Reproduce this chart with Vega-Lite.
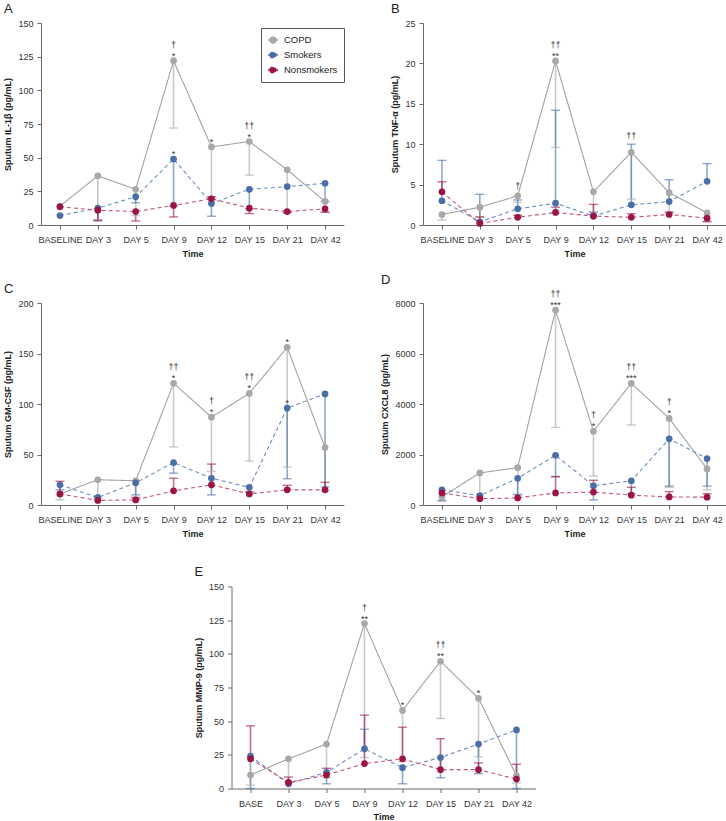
{
  "$schema": "https://vega.github.io/schema/vega-lite/v6.json",
  "padding": {"left": 3, "top": 2, "right": 1, "bottom": 1},
  "spacing": 27.5,
  "center": true,
  "resolve": {"legend": {"color": "independent", "stroke": "independent", "strokeDash": "independent"}},
  "config": {
    "font": "Liberation Sans",
    "view": {"stroke": null},
    "axis": {"grid": false, "domainColor": "#6b6b6b", "tickColor": "#6b6b6b", "tickSize": 4, "labelFontSize": 9, "labelColor": "#333333", "labelPadding": 3, "titleFontSize": 9, "titleFontWeight": "bold", "titleColor": "#222222", "labelFont": "Liberation Sans", "titleFont": "Liberation Sans"},
    "axisX": {"labelAngle": 0, "labelOverlap": false, "labelPadding": 6.5, "titlePadding": 4.5},
    "axisY": {"labelPadding": 4, "titlePadding": 5},
    "title": {"fontSize": 13, "fontWeight": "normal", "anchor": "start", "frame": "bounds", "color": "#222222", "offset": 3.5}
  },
  "datasets": {
    "pts": [
      {"p":"A","g":"COPD","t":"BASELINE","v":14},
      {"p":"A","g":"COPD","t":"DAY 3","v":36.5,"e":4},
      {"p":"A","g":"COPD","t":"DAY 5","v":26.5,"e":7},
      {"p":"A","g":"COPD","t":"DAY 9","v":122,"e":72},
      {"p":"A","g":"COPD","t":"DAY 12","v":58,"e":19},
      {"p":"A","g":"COPD","t":"DAY 15","v":62,"e":37},
      {"p":"A","g":"COPD","t":"DAY 21","v":41,"e":10},
      {"p":"A","g":"COPD","t":"DAY 42","v":17.5,"e":9.5},
      {"p":"A","g":"Smokers","t":"BASELINE","v":7},
      {"p":"A","g":"Smokers","t":"DAY 3","v":12.5,"e":3},
      {"p":"A","g":"Smokers","t":"DAY 5","v":21,"e":16.5},
      {"p":"A","g":"Smokers","t":"DAY 9","v":49,"e":14},
      {"p":"A","g":"Smokers","t":"DAY 12","v":16,"e":6.5},
      {"p":"A","g":"Smokers","t":"DAY 15","v":26.5,"e":12},
      {"p":"A","g":"Smokers","t":"DAY 21","v":28.5},
      {"p":"A","g":"Smokers","t":"DAY 42","v":31,"e":17.5},
      {"p":"A","g":"Nonsmokers","t":"BASELINE","v":13.5},
      {"p":"A","g":"Nonsmokers","t":"DAY 3","v":11,"e":3.5},
      {"p":"A","g":"Nonsmokers","t":"DAY 5","v":10,"e":3},
      {"p":"A","g":"Nonsmokers","t":"DAY 9","v":14.5,"e":6},
      {"p":"A","g":"Nonsmokers","t":"DAY 12","v":19.5,"e":21},
      {"p":"A","g":"Nonsmokers","t":"DAY 15","v":12.5,"e":8.5},
      {"p":"A","g":"Nonsmokers","t":"DAY 21","v":10,"e":9},
      {"p":"A","g":"Nonsmokers","t":"DAY 42","v":12,"e":9.5},

      {"p":"B","g":"COPD","t":"BASELINE","v":1.3,"e":0.6},
      {"p":"B","g":"COPD","t":"DAY 3","v":2.2,"e":1.0},
      {"p":"B","g":"COPD","t":"DAY 5","v":3.6,"e":2.8},
      {"p":"B","g":"COPD","t":"DAY 9","v":20.3,"e":9.6},
      {"p":"B","g":"COPD","t":"DAY 12","v":4.1,"e":1.5},
      {"p":"B","g":"COPD","t":"DAY 15","v":9.0,"e":3.2},
      {"p":"B","g":"COPD","t":"DAY 21","v":4.0,"e":1.5},
      {"p":"B","g":"COPD","t":"DAY 42","v":1.5,"e":0.5},
      {"p":"B","g":"Smokers","t":"BASELINE","v":3.0,"e":8.0},
      {"p":"B","g":"Smokers","t":"DAY 3","v":0.4,"e":3.8},
      {"p":"B","g":"Smokers","t":"DAY 5","v":2.0,"e":3.1},
      {"p":"B","g":"Smokers","t":"DAY 9","v":2.7,"e":14.2},
      {"p":"B","g":"Smokers","t":"DAY 12","v":1.1,"e":1.6},
      {"p":"B","g":"Smokers","t":"DAY 15","v":2.5,"e":10.0},
      {"p":"B","g":"Smokers","t":"DAY 21","v":2.9,"e":5.6},
      {"p":"B","g":"Smokers","t":"DAY 42","v":5.4,"e":7.6},
      {"p":"B","g":"Nonsmokers","t":"BASELINE","v":4.1,"e":5.35},
      {"p":"B","g":"Nonsmokers","t":"DAY 3","v":0.2,"e":1.0},
      {"p":"B","g":"Nonsmokers","t":"DAY 5","v":0.95,"e":1.2},
      {"p":"B","g":"Nonsmokers","t":"DAY 9","v":1.55,"e":2.2},
      {"p":"B","g":"Nonsmokers","t":"DAY 12","v":1.1,"e":2.55},
      {"p":"B","g":"Nonsmokers","t":"DAY 15","v":0.95,"e":1.4},
      {"p":"B","g":"Nonsmokers","t":"DAY 21","v":1.3,"e":1.6},
      {"p":"B","g":"Nonsmokers","t":"DAY 42","v":0.85,"e":0.4},

      {"p":"C","g":"COPD","t":"BASELINE","v":11,"e":5},
      {"p":"C","g":"COPD","t":"DAY 3","v":25,"e":7},
      {"p":"C","g":"COPD","t":"DAY 5","v":24,"e":8},
      {"p":"C","g":"COPD","t":"DAY 9","v":120.5,"e":57.5},
      {"p":"C","g":"COPD","t":"DAY 12","v":87,"e":33.5},
      {"p":"C","g":"COPD","t":"DAY 15","v":110.5,"e":43.5},
      {"p":"C","g":"COPD","t":"DAY 21","v":156,"e":37.5},
      {"p":"C","g":"COPD","t":"DAY 42","v":57,"e":14},
      {"p":"C","g":"Smokers","t":"BASELINE","v":20,"e":15},
      {"p":"C","g":"Smokers","t":"DAY 3","v":7.5},
      {"p":"C","g":"Smokers","t":"DAY 5","v":22,"e":10},
      {"p":"C","g":"Smokers","t":"DAY 9","v":42,"e":31.5},
      {"p":"C","g":"Smokers","t":"DAY 12","v":26.5,"e":10},
      {"p":"C","g":"Smokers","t":"DAY 15","v":17.5},
      {"p":"C","g":"Smokers","t":"DAY 21","v":96,"e":26},
      {"p":"C","g":"Smokers","t":"DAY 42","v":110,"e":18},
      {"p":"C","g":"Nonsmokers","t":"BASELINE","v":11,"e":23.5},
      {"p":"C","g":"Nonsmokers","t":"DAY 3","v":4.5},
      {"p":"C","g":"Nonsmokers","t":"DAY 5","v":5,"e":7},
      {"p":"C","g":"Nonsmokers","t":"DAY 9","v":14,"e":26.5},
      {"p":"C","g":"Nonsmokers","t":"DAY 12","v":20,"e":40.5},
      {"p":"C","g":"Nonsmokers","t":"DAY 15","v":11,"e":13},
      {"p":"C","g":"Nonsmokers","t":"DAY 21","v":15,"e":19.5},
      {"p":"C","g":"Nonsmokers","t":"DAY 42","v":15,"e":22.5},

      {"p":"D","g":"COPD","t":"BASELINE","v":320,"e":150},
      {"p":"D","g":"COPD","t":"DAY 3","v":1270,"e":300},
      {"p":"D","g":"COPD","t":"DAY 5","v":1480,"e":400},
      {"p":"D","g":"COPD","t":"DAY 9","v":7720,"e":3070},
      {"p":"D","g":"COPD","t":"DAY 12","v":2920,"e":1150},
      {"p":"D","g":"COPD","t":"DAY 15","v":4820,"e":3170},
      {"p":"D","g":"COPD","t":"DAY 21","v":3430,"e":700},
      {"p":"D","g":"COPD","t":"DAY 42","v":1430,"e":600},
      {"p":"D","g":"Smokers","t":"BASELINE","v":600,"e":180},
      {"p":"D","g":"Smokers","t":"DAY 3","v":370},
      {"p":"D","g":"Smokers","t":"DAY 5","v":1060,"e":420},
      {"p":"D","g":"Smokers","t":"DAY 9","v":1970,"e":1130},
      {"p":"D","g":"Smokers","t":"DAY 12","v":760,"e":200},
      {"p":"D","g":"Smokers","t":"DAY 15","v":960,"e":450},
      {"p":"D","g":"Smokers","t":"DAY 21","v":2620,"e":750},
      {"p":"D","g":"Smokers","t":"DAY 42","v":1840,"e":750},
      {"p":"D","g":"Nonsmokers","t":"BASELINE","v":480},
      {"p":"D","g":"Nonsmokers","t":"DAY 3","v":250},
      {"p":"D","g":"Nonsmokers","t":"DAY 5","v":280},
      {"p":"D","g":"Nonsmokers","t":"DAY 9","v":480,"e":1120},
      {"p":"D","g":"Nonsmokers","t":"DAY 12","v":510,"e":980},
      {"p":"D","g":"Nonsmokers","t":"DAY 15","v":390,"e":700},
      {"p":"D","g":"Nonsmokers","t":"DAY 21","v":320,"e":530},
      {"p":"D","g":"Nonsmokers","t":"DAY 42","v":310,"e":450},

      {"p":"E","g":"COPD","t":"BASE","v":10,"e":2.5},
      {"p":"E","g":"COPD","t":"DAY 3","v":22,"e":5},
      {"p":"E","g":"COPD","t":"DAY 5","v":33,"e":8},
      {"p":"E","g":"COPD","t":"DAY 9","v":122.5,"e":23},
      {"p":"E","g":"COPD","t":"DAY 12","v":58,"e":20},
      {"p":"E","g":"COPD","t":"DAY 15","v":94.5,"e":52},
      {"p":"E","g":"COPD","t":"DAY 21","v":67,"e":23.5},
      {"p":"E","g":"COPD","t":"DAY 42","v":9.5,"e":4},
      {"p":"E","g":"Smokers","t":"BASE","v":24,"e":0},
      {"p":"E","g":"Smokers","t":"DAY 3","v":3.5},
      {"p":"E","g":"Smokers","t":"DAY 5","v":12,"e":3.5},
      {"p":"E","g":"Smokers","t":"DAY 9","v":29.5,"e":44},
      {"p":"E","g":"Smokers","t":"DAY 12","v":15.5,"e":3.5},
      {"p":"E","g":"Smokers","t":"DAY 15","v":23,"e":8},
      {"p":"E","g":"Smokers","t":"DAY 21","v":33,"e":11},
      {"p":"E","g":"Smokers","t":"DAY 42","v":43.5,"e":0},
      {"p":"E","g":"Nonsmokers","t":"BASE","v":22,"e":46.5},
      {"p":"E","g":"Nonsmokers","t":"DAY 3","v":4.5,"e":8.5},
      {"p":"E","g":"Nonsmokers","t":"DAY 5","v":10,"e":15},
      {"p":"E","g":"Nonsmokers","t":"DAY 9","v":18.5,"e":54.5},
      {"p":"E","g":"Nonsmokers","t":"DAY 12","v":22,"e":45.5},
      {"p":"E","g":"Nonsmokers","t":"DAY 15","v":14,"e":37},
      {"p":"E","g":"Nonsmokers","t":"DAY 21","v":14,"e":19},
      {"p":"E","g":"Nonsmokers","t":"DAY 42","v":7,"e":18}
    ],
    "ann": [
      {"p":"A","t":"DAY 9","v":122,"s":"*","d":"†"},
      {"p":"A","t":"DAY 9","v":49,"s":"*"},
      {"p":"A","t":"DAY 12","v":58,"s":"*"},
      {"p":"A","t":"DAY 15","v":62,"s":"*","d":"††"},
      {"p":"B","t":"DAY 5","v":3.6,"d0":"†"},
      {"p":"B","t":"DAY 9","v":20.3,"s":"**","d":"††"},
      {"p":"B","t":"DAY 15","v":9.0,"d":"††"},
      {"p":"C","t":"DAY 9","v":120.5,"s":"*","d":"††"},
      {"p":"C","t":"DAY 12","v":87,"s":"*","d":"†"},
      {"p":"C","t":"DAY 15","v":110.5,"s":"*","d":"††"},
      {"p":"C","t":"DAY 21","v":156,"s":"*"},
      {"p":"C","t":"DAY 21","v":96,"s":"*"},
      {"p":"D","t":"DAY 9","v":7720,"s":"***","d":"††"},
      {"p":"D","t":"DAY 12","v":2920,"s":"*","d":"†"},
      {"p":"D","t":"DAY 15","v":4820,"s":"***","d":"††"},
      {"p":"D","t":"DAY 21","v":3430,"s":"*","d":"†"},
      {"p":"E","t":"DAY 9","v":122.5,"s":"**","d":"†"},
      {"p":"E","t":"DAY 12","v":58,"s":"*"},
      {"p":"E","t":"DAY 15","v":94.5,"s":"**","d":"††"},
      {"p":"E","t":"DAY 21","v":67,"s":"*"}
    ]
  },
  "vconcat": [
    {
      "spacing": 15,
      "resolve": {"legend": {"color": "independent", "stroke": "independent", "strokeDash": "independent"}},
      "vconcat": [
        {
          "hconcat": [
            {
              "name": "pA", "width": 303, "height": 202,
              "title": {"text": "A"},
              "encoding": {
                "x": {"field": "t", "type": "nominal", "sort": ["BASELINE","DAY 3","DAY 5","DAY 9","DAY 12","DAY 15","DAY 21","DAY 42"], "scale": {"type": "point", "padding": 0.5}, "axis": {"title": "Time"}},
                "y": {"field": "v", "type": "quantitative", "scale": {"domain": [0, 150], "nice": false}, "axis": {"title": "Sputum IL-1β (pg/mL)", "values": [0,25,50,75,100,125,150]}}
              },
              "layer": [
                {"data": {"name": "pts"}, "transform": [{"filter": "datum.p==='A' && datum.e != null"}], "mark": {"type": "rule", "strokeWidth": 1.6, "opacity": 0.6}, "encoding": {"y2": {"field": "e"}, "color": {"field": "g", "type": "nominal", "scale": {"domain": ["COPD","Smokers","Nonsmokers"], "range": ["#a8a8a8","#4a6ea6","#9c1444"]}}}},
                {"data": {"name": "pts"}, "transform": [{"filter": "datum.p==='A' && datum.e != null"}], "mark": {"type": "tick", "thickness": 1.4, "size": 9, "opacity": 0.6}, "encoding": {"y": {"field": "e", "type": "quantitative", "title": "Sputum IL-1β (pg/mL)"}, "color": {"field": "g", "type": "nominal"}}},
                {"data": {"name": "pts"}, "transform": [{"filter": "datum.p==='A'"}], "mark": {"type": "line", "strokeWidth": 1.1}, "encoding": {"stroke": {"field": "g", "type": "nominal", "scale": {"domain": ["COPD","Smokers","Nonsmokers"], "range": ["#a3a3a3","#6f8ec2","#c25677"]}, "legend": null}, "strokeDash": {"field": "g", "type": "nominal", "scale": {"domain": ["COPD","Smokers","Nonsmokers"], "range": [[1,0],[4,3],[4,3]]}, "legend": null}}},
                {"data": {"name": "pts"}, "transform": [{"filter": "datum.p==='A'"}], "mark": {"type": "point", "filled": true, "size": 45, "opacity": 1}, "encoding": {"color": {"field": "g", "type": "nominal", "legend": {"title": null, "orient": "none", "legendX": 220, "legendY": 5, "symbolType": "M-1,0H1M-0.6,0A0.6,0.6,0,1,1,0.6,0A0.6,0.6,0,1,1,-0.6,0Z", "symbolSize": 100, "symbolStrokeWidth": 1.3, "symbolOpacity": 1, "labelFontSize": 9.5, "labelColor": "#222222", "strokeColor": "#555555", "fillColor": "white", "padding": 6, "rowPadding": 3, "labelOffset": 5, "encode": {"symbols": {"update": {"stroke": {"scale": "color", "field": "value"}, "opacity": {"value": 1}}}}}}}},
                {"data": {"name": "ann"}, "transform": [{"filter": "datum.p==='A' && datum.s"}], "mark": {"type": "text", "dy": -2, "fontSize": 9, "color": "#333333", "baseline": "alphabetic"}, "encoding": {"text": {"field": "s"}}},
                {"data": {"name": "ann"}, "transform": [{"filter": "datum.p==='A' && datum.d"}], "mark": {"type": "text", "dy": -13, "fontSize": 9, "color": "#333333", "baseline": "alphabetic"}, "encoding": {"text": {"field": "d"}}}
              ]
            },
            {
              "name": "pB", "width": 303, "height": 202,
              "title": {"text": "B"},
              "encoding": {
                "x": {"field": "t", "type": "nominal", "sort": ["BASELINE","DAY 3","DAY 5","DAY 9","DAY 12","DAY 15","DAY 21","DAY 42"], "scale": {"type": "point", "padding": 0.5}, "axis": {"title": "Time"}},
                "y": {"field": "v", "type": "quantitative", "scale": {"domain": [0, 25], "nice": false}, "axis": {"title": "Sputum TNF-α (pg/mL)", "values": [0,5,10,15,20,25]}}
              },
              "layer": [
                {"data": {"name": "pts"}, "transform": [{"filter": "datum.p==='B' && datum.e != null"}], "mark": {"type": "rule", "strokeWidth": 1.6, "opacity": 0.6}, "encoding": {"y2": {"field": "e"}, "color": {"field": "g", "type": "nominal", "legend": null}}},
                {"data": {"name": "pts"}, "transform": [{"filter": "datum.p==='B' && datum.e != null"}], "mark": {"type": "tick", "thickness": 1.4, "size": 9, "opacity": 0.6}, "encoding": {"y": {"field": "e", "type": "quantitative", "title": "Sputum TNF-α (pg/mL)"}, "color": {"field": "g", "type": "nominal", "legend": null}}},
                {"data": {"name": "pts"}, "transform": [{"filter": "datum.p==='B'"}], "mark": {"type": "line", "strokeWidth": 1.1}, "encoding": {"stroke": {"field": "g", "type": "nominal", "legend": null}, "strokeDash": {"field": "g", "type": "nominal", "legend": null}}},
                {"data": {"name": "pts"}, "transform": [{"filter": "datum.p==='B'"}], "mark": {"type": "point", "filled": true, "size": 45, "opacity": 1}, "encoding": {"color": {"field": "g", "type": "nominal", "legend": null}}},
                {"data": {"name": "ann"}, "transform": [{"filter": "datum.p==='B' && datum.s"}], "mark": {"type": "text", "dy": -2, "fontSize": 9, "color": "#333333", "baseline": "alphabetic"}, "encoding": {"text": {"field": "s"}}},
                {"data": {"name": "ann"}, "transform": [{"filter": "datum.p==='B' && datum.d"}], "mark": {"type": "text", "dy": -13, "fontSize": 9, "color": "#333333", "baseline": "alphabetic"}, "encoding": {"text": {"field": "d"}}},
                {"data": {"name": "ann"}, "transform": [{"filter": "datum.p==='B' && datum.d0"}], "mark": {"type": "text", "dy": -7, "fontSize": 9, "color": "#333333", "baseline": "alphabetic"}, "encoding": {"text": {"field": "d0"}}}
              ]
            }
          ],
          "spacing": 79,
          "bounds": "flush",
          "resolve": {"legend": {"color": "independent", "stroke": "independent", "strokeDash": "independent"}}
        },
        {
          "hconcat": [
            {
              "name": "pC", "width": 303, "height": 202,
              "title": {"text": "C"},
              "encoding": {
                "x": {"field": "t", "type": "nominal", "sort": ["BASELINE","DAY 3","DAY 5","DAY 9","DAY 12","DAY 15","DAY 21","DAY 42"], "scale": {"type": "point", "padding": 0.5}, "axis": {"title": "Time"}},
                "y": {"field": "v", "type": "quantitative", "scale": {"domain": [0, 200], "nice": false}, "axis": {"title": "Sputum GM-CSF (pg/mL)", "values": [0,50,100,150,200]}}
              },
              "layer": [
                {"data": {"name": "pts"}, "transform": [{"filter": "datum.p==='C' && datum.e != null"}], "mark": {"type": "rule", "strokeWidth": 1.6, "opacity": 0.6}, "encoding": {"y2": {"field": "e"}, "color": {"field": "g", "type": "nominal", "legend": null}}},
                {"data": {"name": "pts"}, "transform": [{"filter": "datum.p==='C' && datum.e != null"}], "mark": {"type": "tick", "thickness": 1.4, "size": 9, "opacity": 0.6}, "encoding": {"y": {"field": "e", "type": "quantitative", "title": "Sputum GM-CSF (pg/mL)"}, "color": {"field": "g", "type": "nominal", "legend": null}}},
                {"data": {"name": "pts"}, "transform": [{"filter": "datum.p==='C'"}], "mark": {"type": "line", "strokeWidth": 1.1}, "encoding": {"stroke": {"field": "g", "type": "nominal", "legend": null}, "strokeDash": {"field": "g", "type": "nominal", "legend": null}}},
                {"data": {"name": "pts"}, "transform": [{"filter": "datum.p==='C'"}], "mark": {"type": "point", "filled": true, "size": 45, "opacity": 1}, "encoding": {"color": {"field": "g", "type": "nominal", "legend": null}}},
                {"data": {"name": "ann"}, "transform": [{"filter": "datum.p==='C' && datum.s"}], "mark": {"type": "text", "dy": -2, "fontSize": 9, "color": "#333333", "baseline": "alphabetic"}, "encoding": {"text": {"field": "s"}}},
                {"data": {"name": "ann"}, "transform": [{"filter": "datum.p==='C' && datum.d"}], "mark": {"type": "text", "dy": -13, "fontSize": 9, "color": "#333333", "baseline": "alphabetic"}, "encoding": {"text": {"field": "d"}}}
              ]
            },
            {
              "name": "pD", "width": 303, "height": 202,
              "title": {"text": "D"},
              "encoding": {
                "x": {"field": "t", "type": "nominal", "sort": ["BASELINE","DAY 3","DAY 5","DAY 9","DAY 12","DAY 15","DAY 21","DAY 42"], "scale": {"type": "point", "padding": 0.5}, "axis": {"title": "Time"}},
                "y": {"field": "v", "type": "quantitative", "scale": {"domain": [0, 8000], "nice": false}, "axis": {"title": "Sputum CXCL8 (pg/mL)", "values": [0,2000,4000,6000,8000], "format": "d"}}
              },
              "layer": [
                {"data": {"name": "pts"}, "transform": [{"filter": "datum.p==='D' && datum.e != null"}], "mark": {"type": "rule", "strokeWidth": 1.6, "opacity": 0.6}, "encoding": {"y2": {"field": "e"}, "color": {"field": "g", "type": "nominal", "legend": null}}},
                {"data": {"name": "pts"}, "transform": [{"filter": "datum.p==='D' && datum.e != null"}], "mark": {"type": "tick", "thickness": 1.4, "size": 9, "opacity": 0.6}, "encoding": {"y": {"field": "e", "type": "quantitative", "title": "Sputum CXCL8 (pg/mL)"}, "color": {"field": "g", "type": "nominal", "legend": null}}},
                {"data": {"name": "pts"}, "transform": [{"filter": "datum.p==='D'"}], "mark": {"type": "line", "strokeWidth": 1.1}, "encoding": {"stroke": {"field": "g", "type": "nominal", "legend": null}, "strokeDash": {"field": "g", "type": "nominal", "legend": null}}},
                {"data": {"name": "pts"}, "transform": [{"filter": "datum.p==='D'"}], "mark": {"type": "point", "filled": true, "size": 45, "opacity": 1}, "encoding": {"color": {"field": "g", "type": "nominal", "legend": null}}},
                {"data": {"name": "ann"}, "transform": [{"filter": "datum.p==='D' && datum.s"}], "mark": {"type": "text", "dy": -2, "fontSize": 9, "color": "#333333", "baseline": "alphabetic"}, "encoding": {"text": {"field": "s"}}},
                {"data": {"name": "ann"}, "transform": [{"filter": "datum.p==='D' && datum.d"}], "mark": {"type": "text", "dy": -13, "fontSize": 9, "color": "#333333", "baseline": "alphabetic"}, "encoding": {"text": {"field": "d"}}}
              ]
            }
          ],
          "spacing": 79,
          "bounds": "flush",
          "resolve": {"legend": {"color": "independent", "stroke": "independent", "strokeDash": "independent"}}
        }
      ]
    },
    {
      "name": "pE", "width": 304, "height": 202,
      "title": {"text": "E"},
      "encoding": {
        "x": {"field": "t", "type": "nominal", "sort": ["BASE","DAY 3","DAY 5","DAY 9","DAY 12","DAY 15","DAY 21","DAY 42"], "scale": {"type": "point", "padding": 0.5}, "axis": {"title": "Time"}},
        "y": {"field": "v", "type": "quantitative", "scale": {"domain": [0, 150], "nice": false}, "axis": {"title": "Sputum MMP-9 (pg/mL)", "values": [0,25,50,75,100,125,150]}}
      },
      "layer": [
        {"data": {"name": "pts"}, "transform": [{"filter": "datum.p==='E' && datum.e != null"}], "mark": {"type": "rule", "strokeWidth": 1.6, "opacity": 0.6}, "encoding": {"y2": {"field": "e"}, "color": {"field": "g", "type": "nominal", "legend": null}}},
        {"data": {"name": "pts"}, "transform": [{"filter": "datum.p==='E' && datum.e != null"}], "mark": {"type": "tick", "thickness": 1.4, "size": 9, "opacity": 0.6}, "encoding": {"y": {"field": "e", "type": "quantitative", "title": "Sputum MMP-9 (pg/mL)"}, "color": {"field": "g", "type": "nominal", "legend": null}}},
        {"data": {"name": "pts"}, "transform": [{"filter": "datum.p==='E'"}], "mark": {"type": "line", "strokeWidth": 1.1}, "encoding": {"stroke": {"field": "g", "type": "nominal", "legend": null}, "strokeDash": {"field": "g", "type": "nominal", "legend": null}}},
        {"data": {"name": "pts"}, "transform": [{"filter": "datum.p==='E'"}], "mark": {"type": "point", "filled": true, "size": 45, "opacity": 1}, "encoding": {"color": {"field": "g", "type": "nominal", "legend": null}}},
        {"data": {"name": "ann"}, "transform": [{"filter": "datum.p==='E' && datum.s"}], "mark": {"type": "text", "dy": -2, "fontSize": 9, "color": "#333333", "baseline": "alphabetic"}, "encoding": {"text": {"field": "s"}}},
        {"data": {"name": "ann"}, "transform": [{"filter": "datum.p==='E' && datum.d"}], "mark": {"type": "text", "dy": -13, "fontSize": 9, "color": "#333333", "baseline": "alphabetic"}, "encoding": {"text": {"field": "d"}}}
      ]
    }
  ]
}
